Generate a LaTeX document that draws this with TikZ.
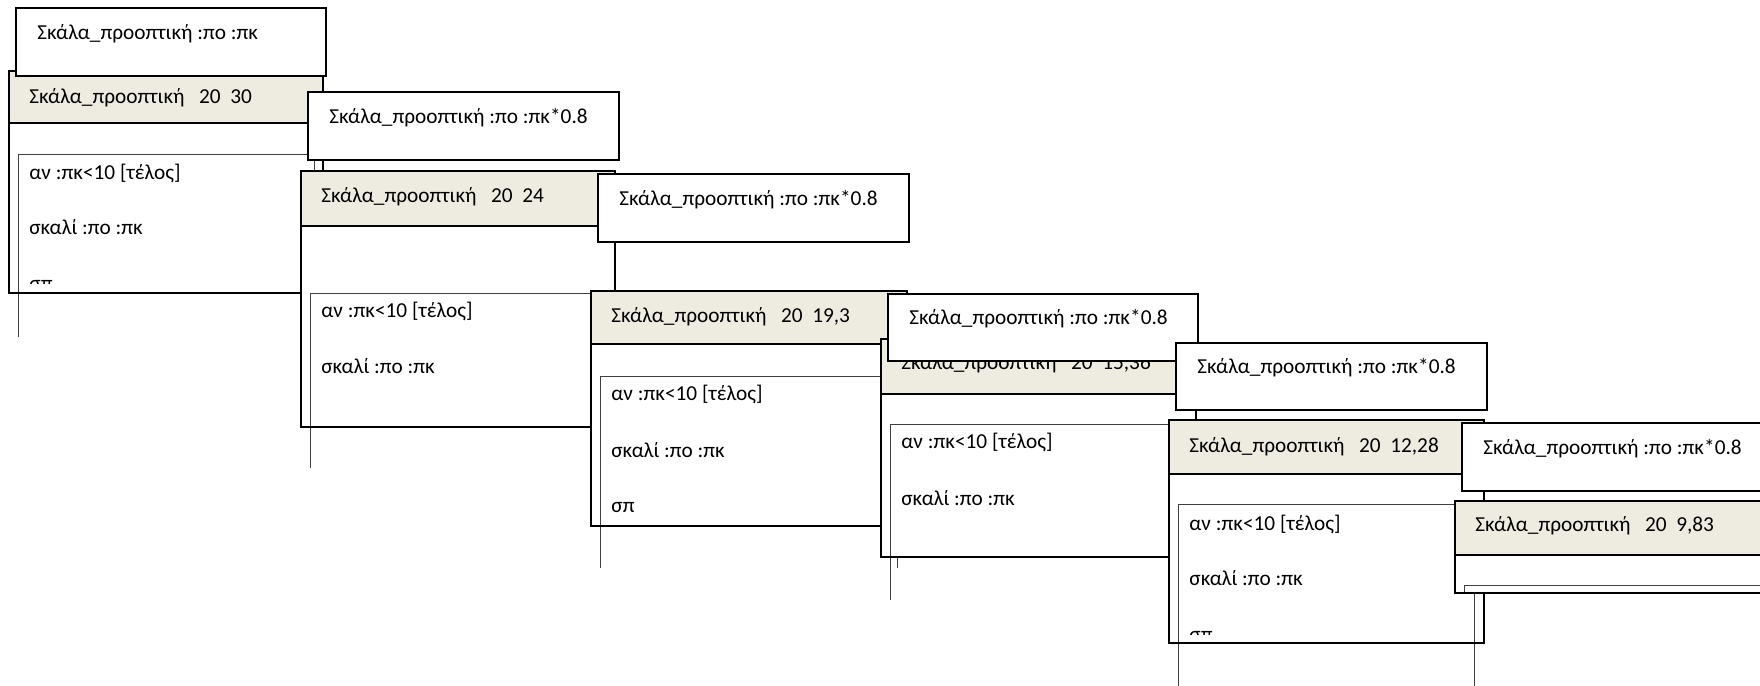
\documentclass[tikz,border=0pt]{standalone}
\usepackage{fontspec}
\setmainfont{Carlito}
\definecolor{hdrbeige}{HTML}{EEECE1}

\begin{document}
\begin{tikzpicture}[x=0.5pt, y=-0.5pt, every node/.style={font=\fontsize{10.65pt}{12pt}\selectfont, inner sep=0pt, anchor=base west},
	callbox/.style={draw=black, fill=white, line width=1pt},
	framebox/.style={draw=black, line width=1pt},
	innerbox/.style={draw=black!75, line width=0.5pt}]
	\useasboundingbox (0,0) rectangle (1760,685);
	\clip (0,0) rectangle (1760,685);
	% level 1
	\fill[white] (9,71) rectangle (323,293);
	\fill[hdrbeige] (9,71) rectangle (323,123);
	\draw[innerbox] (18,337) -- (18,154) -- (314,154) -- (314,337);
	\begin{scope}
		\clip (9,123) rectangle (323,283);
		\node (b1a) at (29,179) {αν :πκ<10 [τέλος]};
		\node (b1b) at (29,234) {σκαλί :πο :πκ};
		\node (b1c) at (29,290) {σπ};
	\end{scope}
	\draw[framebox] (9,71) rectangle (323,293) (9,123) -- (323,123);
	\node (h1) at (29,103) {Σκάλα\_προοπτική\ \ \ 20\ \ 30};
	\draw[callbox] (16,8) rectangle (326,76);
	\node (c1) at (37,39.5) {Σκάλα\_προοπτική :πο :πκ};
	% level 2
	\fill[white] (301,171) rectangle (615,427);
	\fill[hdrbeige] (301,171) rectangle (615,226);
	\draw[innerbox] (310,468) -- (310,293) -- (606,293) -- (606,468);
	\begin{scope}
		\clip (301,226) rectangle (615,417);
		\node (b2a) at (321,317) {αν :πκ<10 [τέλος]};
		\node (b2b) at (321,373) {σκαλί :πο :πκ};
	\end{scope}
	\draw[framebox] (301,171) rectangle (615,427) (301,226) -- (615,226);
	\node (h2) at (321,202) {Σκάλα\_προοπτική\ \ \ 20\ \ 24};
	\draw[callbox] (308,92) rectangle (619,160);
	\node (c2) at (329,123) {Σκάλα\_προοπτική :πο :πκ*0.8};
	% level 3
	\fill[white] (591,291) rectangle (907,526);
	\fill[hdrbeige] (591,291) rectangle (907,344);
	\draw[innerbox] (600,568) -- (600,376) -- (897,376) -- (897,568);
	\begin{scope}
		\clip (591,344) rectangle (907,516);
		\node (b3a) at (611,400) {αν :πκ<10 [τέλος]};
		\node (b3b) at (611,457) {σκαλί :πο :πκ};
		\node (b3c) at (611,512) {σπ};
	\end{scope}
	\draw[framebox] (591,291) rectangle (907,526) (591,344) -- (907,344);
	\node (h3) at (611,322) {Σκάλα\_προοπτική\ \ \ 20\ \ 19,3};
	\draw[callbox] (598,174) rectangle (909,242);
	\node (c3) at (619,205) {Σκάλα\_προοπτική :πο :πκ*0.8};
	% level 4
	\fill[white] (881,339) rectangle (1196,557);
	\fill[hdrbeige] (881,339) rectangle (1196,394);
	\draw[innerbox] (890,600) -- (890,424) -- (1186,424) -- (1186,600);
	\begin{scope}
		\clip (881,394) rectangle (1196,547);
		\node (b4a) at (901,448) {αν :πκ<10 [τέλος]};
		\node (b4b) at (901,505) {σκαλί :πο :πκ};
	\end{scope}
	\draw[framebox] (881,339) rectangle (1196,557) (881,394) -- (1196,394);
	\node (h4) at (901,369) {Σκάλα\_προοπτική\ \ \ 20\ \ 15,36};
	\draw[callbox] (888,294) rectangle (1198,361);
	\node (c4) at (909,324.5) {Σκάλα\_προοπτική :πο :πκ*0.8};
	% level 5
	\fill[white] (1169,420) rectangle (1484,643);
	\fill[hdrbeige] (1169,420) rectangle (1484,474);
	\draw[innerbox] (1178,700) -- (1178,504) -- (1474,504) -- (1474,700);
	\begin{scope}
		\clip (1169,474) rectangle (1484,634);
		\node (b5a) at (1189,530) {αν :πκ<10 [τέλος]};
		\node (b5b) at (1189,585) {σκαλί :πο :πκ};
		\node (b5c) at (1189,641) {σπ};
	\end{scope}
	\draw[framebox] (1169,420) rectangle (1484,643) (1169,474) -- (1484,474);
	\node (h5) at (1189,452) {Σκάλα\_προοπτική\ \ \ 20\ \ 12,28};
	\draw[callbox] (1176,343) rectangle (1487,410);
	\node (c5) at (1197,373) {Σκάλα\_προοπτική :πο :πκ*0.8};
	% level 6
	\fill[white] (1455,501) rectangle (1800,593);
	\fill[hdrbeige] (1455,501) rectangle (1800,555);
	\draw[innerbox] (1464,593) -- (1464,585) -- (1800,585);
	\draw[framebox] (1455,501) rectangle (1800,593) (1455,555) -- (1800,555);
	\node (h6) at (1475,531) {Σκάλα\_προοπτική\ \ \ 20\ \ 9,83};
	\draw[callbox] (1462,423) rectangle (1800,491);
	\node (c6) at (1483,454) {Σκάλα\_προοπτική :πο :πκ*0.8};
\end{tikzpicture}
\end{document}
